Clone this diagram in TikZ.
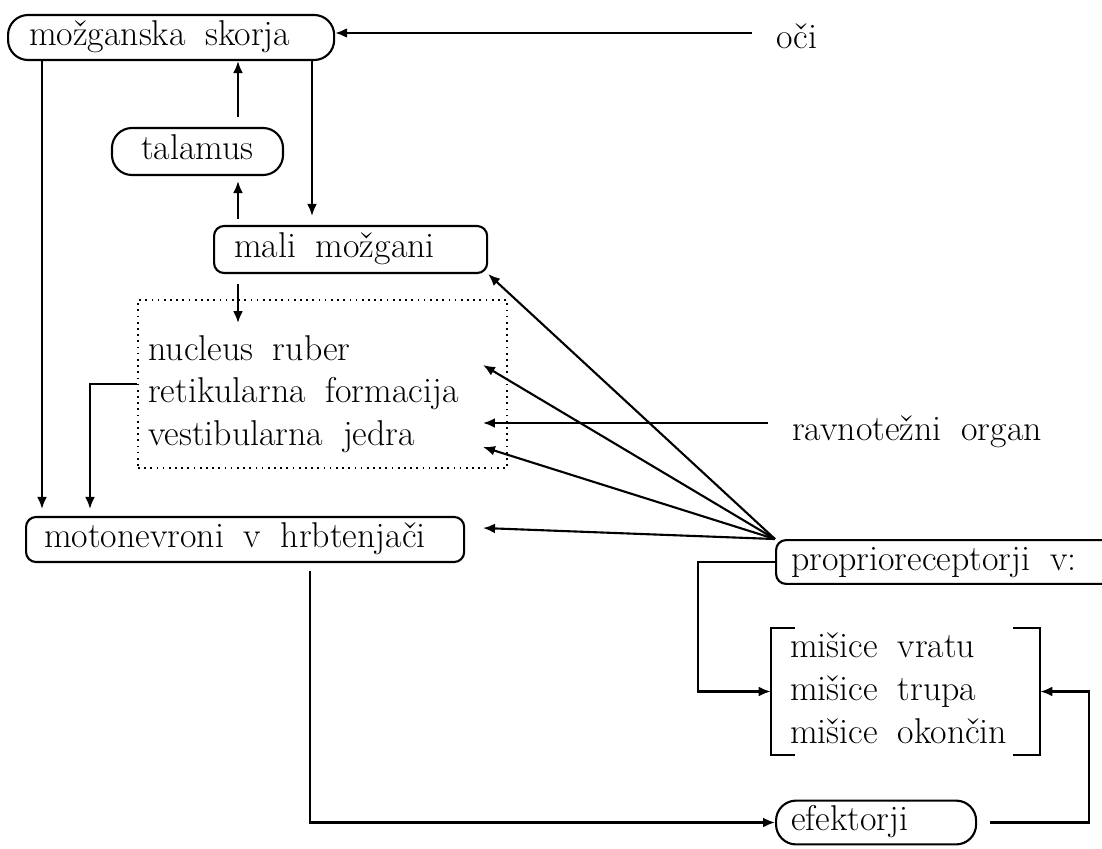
\documentclass[tikz,border=0pt]{standalone}
\usepackage{fontspec}
\usetikzlibrary{arrows.meta}
\newcommand{\diafont}{\fontsize{25.5}{30.6}\selectfont\spaceskip=0.55em plus 0.1em\relax}

\begin{document}
\begin{tikzpicture}[x=0.025cm, y=-0.025cm, font=\diafont,
    pill/.style={draw, line width=1.5pt, rounded corners=0.5cm, text height=18pt, text depth=6.5pt},
    rbox/.style={draw, line width=1.5pt, rounded corners=0.25cm, text height=18pt, text depth=6.5pt},
    lbl/.style={inner xsep=0.6cm},
    vrsta/.style={anchor=base west, inner sep=0},
    arr/.style={-{Latex[length=8.5pt,width=7pt]}, line width=1.5pt}]
    % okvir slike (1 enota = 1 px)
    \useasboundingbox (0,0) rectangle (1102,848);
    \clip (0,0) rectangle (1102,848);
    \fill[white] (0,0) rectangle (1102,848);

    % vozlisca
    \node[pill, anchor=west, inner xsep=0.525cm, minimum height=1.125cm] (skorja) at (7,37.5) {\makebox[7.1cm][l]{možganska skorja}};
    \node[lbl, anchor=base west] (oci) at (752,48) {oči};
    \node[pill, minimum width=4.275cm, minimum height=1.175cm] (talamus) at (197.5,151.5) {talamus};
    \node[rbox, anchor=west, inner xsep=0.5cm, minimum height=1.175cm] (mali) at (213,249.5) {\makebox[5.825cm][l]{mali možgani}};

    \node[draw, dash pattern=on 1.2pt off 3.2pt, line width=1.2pt, minimum width=9.225cm, minimum height=4.2cm] (jedra) at (322.5,384) {};
    \node[vrsta] (ruber) at (148,360) {nucleus ruber};
    \node[vrsta] (retik) at (148,402) {retikularna formacija};
    \node[vrsta] (vest) at (148,445) {vestibularna jedra};
    \node[lbl, anchor=base west] (organ) at (768,440) {ravnotežni organ};

    \node[rbox, anchor=west, inner xsep=0.45cm, minimum height=1.125cm] (moto) at (25,539.5) {\makebox[10.05cm][l]{motonevroni v hrbtenjači}};
    \node[rbox, anchor=west, inner xsep=0.375cm, minimum height=1cm] (prop) at (775,562) {\makebox[8.6cm][l]{proprioreceptorji v:}};

    \node[minimum width=6.725cm, minimum height=3.175cm] (misice) at (905.5,691.5) {};
    \node[vrsta] (vratu) at (790,657) {mišice vratu};
    \node[vrsta] (trupa) at (790,700) {mišice trupa};
    \node[vrsta] (okoncin) at (790,743) {mišice okončin};
    \node[pill, anchor=west, inner xsep=0.375cm, minimum height=0.975cm] (efek) at (775,822.5) {\makebox[4.25cm][l]{efektorji}};

    % oklepaja
    \draw[line width=1.5pt] ([xshift=0.6cm]misice.north west) -- (misice.north west) -- (misice.south west) -- ++(24,0);
    \draw[line width=1.5pt] ([xshift=-0.675cm]misice.north east) -- (misice.north east) -- (misice.south east) -- ++(-27,0);

    % osi in tocke
    \coordinate (osL) at (42,0);
    \coordinate (osR) at (90,0);
    \coordinate (osT) at (238,0);
    \coordinate (osM) at (312,0);
    \coordinate (osD) at (310,0);
    \coordinate (kOci) at (0,33);
    \coordinate (kRuber) at (483,365);
    \coordinate (kOrgan) at (483,423);
    \coordinate (kVest) at (483,447);
    \coordinate (kMoto) at (483,528);

    % povezave
    \draw[arr] (oci.west |- kOci) -- (skorja.east |- kOci);
    \draw[arr, shorten <=0.25cm] (talamus.north -| osT) -- (skorja.south -| osT);
    \draw[arr, shorten <=0.15cm, shorten >=0.125cm] (mali.north -| osT) -- (talamus.south -| osT);
    \draw[arr, shorten >=0.225cm] (skorja.south -| osM) -- (mali.north -| osM);
    \draw[arr, shorten <=0.25cm] (mali.south -| osT) -- ++(0,49);
    \draw[arr, shorten >=0.175cm] (skorja.south -| osL) -- (moto.north -| osL);
    \draw[arr, shorten >=0.175cm] (jedra.west) -| (moto.north -| osR);

    \draw[arr] (prop.north west) -- (mali.south east);
    \draw[arr] (prop.north west) -- (kRuber);
    \draw[arr] (prop.north west) -- (kVest);
    \draw[arr] (prop.north west) -- (kMoto);
    \draw[arr] (organ.west |- kOrgan) -- (kOrgan);

    \draw[arr] (prop.west) -- ++(-77,0) |- (misice.west);
    \draw[arr, shorten <=0.2cm] (moto.south -| osD) |- (efek.west);
    \draw[arr, shorten <=0.325cm] (efek.east) -- ++(112,0) |- (misice.east);
\end{tikzpicture}
\end{document}
